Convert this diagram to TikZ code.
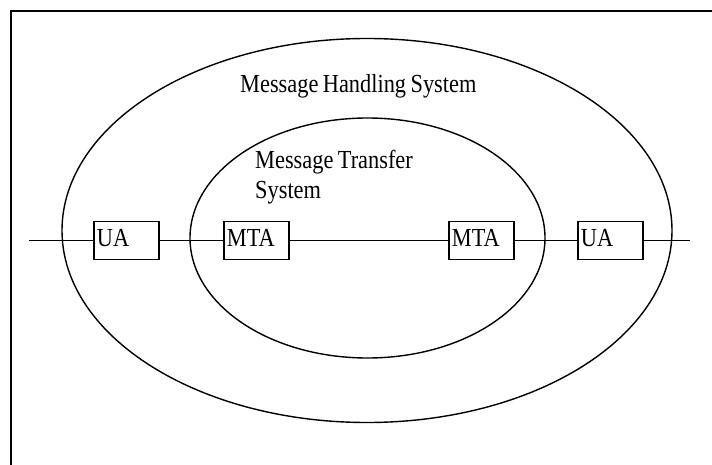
\documentclass[tikz,border=0pt]{standalone}
\usepackage{fontspec}
\setmainfont{Liberation Serif}[FakeStretch=0.86, WordSpace=0.8]
\begin{document}
\begin{tikzpicture}[x=1pt,y=-1pt,
  ring/.style={line width=1.4pt},
  agent/.style={draw, line width=1.8pt, fill=white, anchor=west,
    minimum width=65pt, minimum height=38pt, inner xsep=3pt, inner ysep=0pt,
    text width=59pt, text height=17pt, text depth=5pt, align=left,
    font=\fontsize{26}{30}\selectfont},
  caption/.style={anchor=base west, inner sep=0pt,
    font=\fontsize{26}{30}\selectfont},
  link/.style={line width=1.4pt}]
  \useasboundingbox (0,0) rectangle (712,465);

  % outer frame, running off the right and bottom edges
  \begin{scope}
    \clip (0,0) rectangle (712,465);
    \draw[line width=2.4pt] (11,11) rectangle (740,490);
  \end{scope}

  % system boundaries
  \draw[ring] (367,230.5) ellipse [x radius=305, y radius=192];
  \draw[ring] (367.5,238) ellipse [x radius=177.5, y radius=120];

  % labels
  \node[caption] (mhs) at (240,93) {Message Handling System};
  \node[caption] (mts) at (255,169) {Message Transfer};
  \node[caption] (mts2) at (255,199) {System};

  % agents along the message path
  \coordinate (lend) at (29,240.5);
  \coordinate (rend) at (690,240.5);
  \node[agent] (ua1)  at (93,240.5)  {UA};
  \node[agent] (mta1) at (223,240.5) {MTA};
  \node[agent] (mta2) at (448,240.5) {MTA};
  \node[agent] (ua2)  at (577,240.5) {UA};

  \draw[link] (lend) -- (ua1.west);
  \draw[link] (ua1.east) -- (mta1.west);
  \draw[link] (mta1.east) -- (mta2.west);
  \draw[link] (mta2.east) -- (ua2.west);
  \draw[link] (ua2.east) -- (rend);
\end{tikzpicture}
\end{document}
